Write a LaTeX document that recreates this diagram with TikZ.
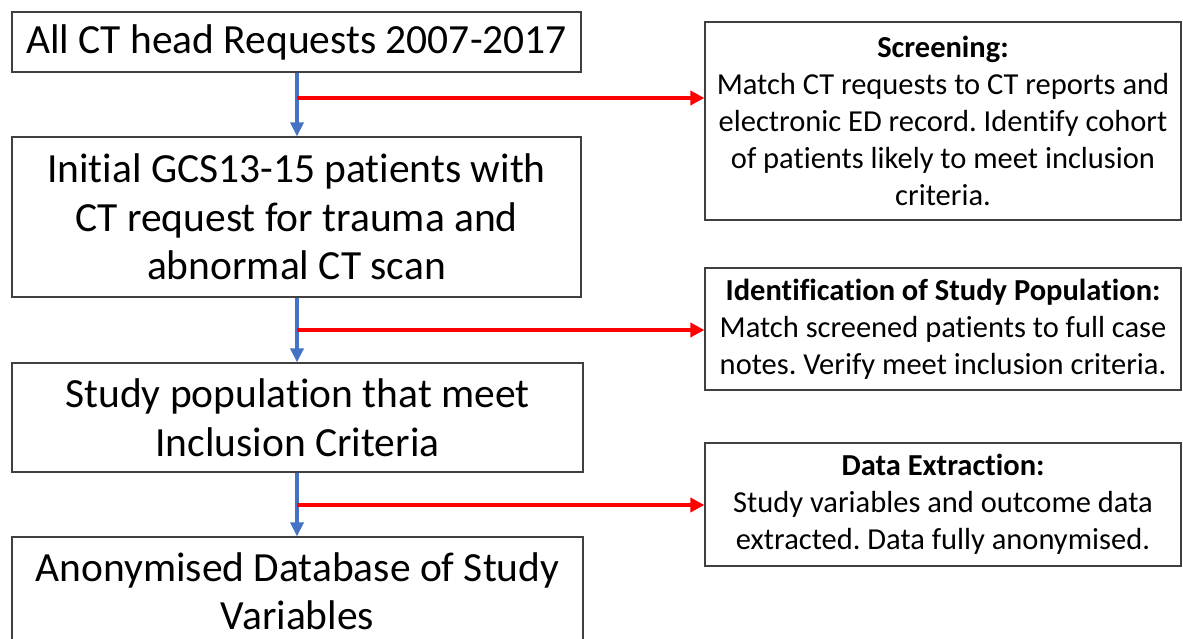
\documentclass[tikz,border=0pt]{standalone}
\usepackage{fontspec}
\setmainfont{Carlito}[Ligatures=NoCommon]
\frenchspacing
\usetikzlibrary{arrows.meta}
\definecolor{bluearrow}{HTML}{4472C4}
\definecolor{boxline}{HTML}{404040}
\tikzset{
  leftbox/.style={draw=boxline, line width=1.2pt, inner sep=0pt, align=center,
    font=\fontsize{41.5}{48.5}\selectfont},
  rightbox/.style={draw=boxline, line width=1.2pt, inner sep=0pt, align=center,
    minimum width=476pt, font=\fontsize{30.5}{37}\selectfont},
  flow/.style={draw=bluearrow, line width=4pt, -{Triangle[length=14pt,width=13pt]}},
  side/.style={draw=red, line width=4pt, -{Triangle[length=14pt,width=14pt]}}
}
\begin{document}
\begin{tikzpicture}[x=1pt,y=-1pt]
\useasboundingbox (0,0) rectangle (1183,639);
\clip (0,0) rectangle (1183,639);
\node[leftbox, minimum width=569pt, minimum height=60pt] (b1) at (296.5,42) {All CT head Requests 2007-2017};
\node[leftbox, minimum width=569pt, minimum height=160pt] (b2) at (296.5,217) {Initial GCS13-15 patients with\\CT request for trauma and\\abnormal CT scan};
\node[leftbox, minimum width=571pt, minimum height=109pt] (b3) at (297.5,417.5) {Study population that meet\\Inclusion Criteria};
\node[leftbox, minimum width=571pt, minimum height=108pt] (b4) at (297.5,591) {Anonymised Database of Study\\Variables};

\node[rightbox, minimum height=198pt] (r1) at (943,121) {\textbf{Screening:}\\Match CT requests to CT reports and\\electronic ED record. Identify cohort\\of patients likely to meet inclusion\\criteria.};
\node[rightbox, minimum height=122pt] (r2) at (943,329) {\textbf{Identification of Study Population:}\\Match screened patients to full case\\notes. Verify meet inclusion criteria.};
\node[rightbox, minimum height=123pt] (r3) at (943,504.5) {\textbf{Data Extraction:}\\Study variables and outcome data\\extracted. Data fully anonymised.};

\coordinate (s1) at (297,98);
\coordinate (s2) at (297,330);
\coordinate (s3) at (297,505);

\draw[flow] (b1.south -| s1) -- (b2.north -| s1);
\draw[flow] (b2.south -| s2) -- (b3.north -| s2);
\draw[flow] (b3.south -| s3) -- (b4.north -| s3);

\draw[side] (s1) -- (s1 -| r1.west);
\draw[side] (s2) -- (s2 -| r2.west);
\draw[side] (s3) -- (s3 -| r3.west);
\end{tikzpicture}
\end{document}
